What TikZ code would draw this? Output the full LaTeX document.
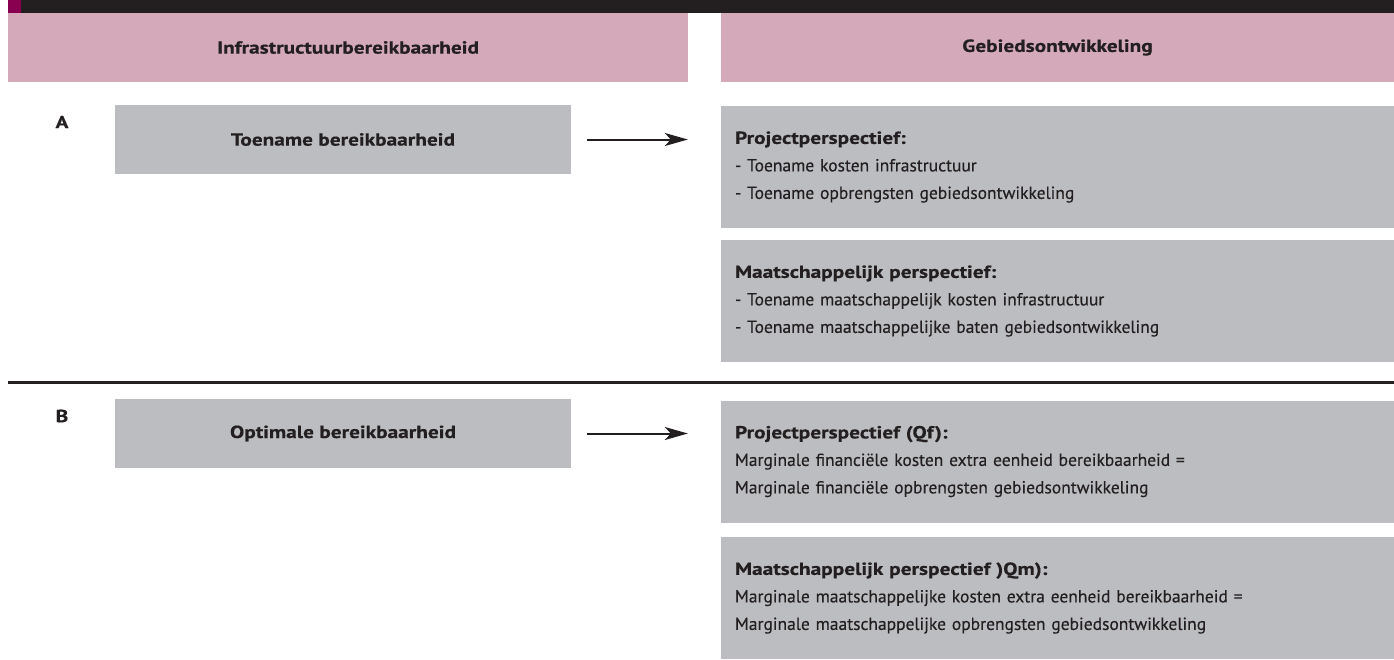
\documentclass[tikz,border=0pt]{standalone}
\usepackage{fontspec}
\setmainfont{PT Sans}[UprightFeatures={FakeBold=0.35},BoldFeatures={FakeStretch=1.22,FakeBold=0.5}]
\usetikzlibrary{arrows.meta,positioning}
\definecolor{headpink}{HTML}{D4A9BA}
\definecolor{boxgrey}{HTML}{BCBDC0}
\definecolor{inkblack}{HTML}{231F20}
\definecolor{tabred}{HTML}{8A0050}
\tikzset{
  colhead/.style={fill=headpink, text=inkblack, inner sep=0pt, minimum height=69pt,
    font=\bfseries\fontsize{17.5}{20}\selectfont},
  causebox/.style={fill=boxgrey, text=inkblack, inner sep=0pt, minimum width=456pt,
    minimum height=69pt, font=\bfseries\fontsize{17.5}{20}\selectfont},
  effectbox/.style={fill=boxgrey, text=inkblack, inner sep=0pt, minimum width=673pt,
    minimum height=122pt, text width=645pt, align=left,
    font=\fontsize{17.5}{27.5}\selectfont},
  caselabel/.style={text=inkblack, inner sep=0pt, font=\bfseries\fontsize{17.5}{20}\selectfont},
  leadsto/.style={-{Stealth[length=23pt,width=13pt,inset=6pt]}, line width=2pt,
    draw=inkblack, shorten <=16pt, shorten >=33pt}
}
\begin{document}
\begin{tikzpicture}[x=1pt,y=-1pt]
\pgfmathsetmacro{\leftx}{343}
\pgfmathsetmacro{\rightx}{1057.5}
\useasboundingbox (0,0) rectangle (1394,659);
\fill[inkblack] (8,0) rectangle (1394,13);
\fill[tabred] (8,0) rectangle (21,13);
\node[colhead, minimum width=680pt] (infra) at (348,47.5) {Infrastructuurbereikbaarheid};
\node[colhead, minimum width=673pt] (gebied) at (\rightx,47.5) {Gebiedsontwikkeling};
\node[caselabel] (labA) at (62,122) {A};
\node[causebox] (toename) at (\leftx,139.5) {Toename bereikbaarheid};
\node[effectbox] (projA) at (\rightx,167) {\textbf{Projectperspectief:}\\
- Toename kosten infrastructuur\\
- Toename opbrengsten gebiedsontwikkeling};
\node[effectbox] (maatA) at (\rightx,301) {\textbf{Maatschappelijk perspectief:}\\
- Toename maatschappelijk kosten infrastructuur\\
- Toename maatschappelijke baten gebiedsontwikkeling};
\draw[leadsto] (toename.east) -- (toename.east -| projA.west);
\draw[inkblack, line width=3pt] (8,382) -- (1394,382);
\node[caselabel] (labB) at (62,416) {B};
\node[causebox] (optimaal) at (\leftx,433.5) {Optimale bereikbaarheid};
\node[effectbox] (projB) at (\rightx,461.5) {\textbf{Projectperspectief (Qf):}\\
Marginale financiële kosten extra eenheid bereikbaarheid =\\
Marginale financiële opbrengsten gebiedsontwikkeling};
\node[effectbox] (maatB) at (\rightx,598) {\textbf{Maatschappelijk perspectief )Qm):}\\
Marginale maatschappelijke kosten extra eenheid bereikbaarheid =\\
Marginale maatschappelijke opbrengsten gebiedsontwikkeling};
\draw[leadsto] (optimaal.east) -- (optimaal.east -| projB.west);
\end{tikzpicture}
\end{document}
